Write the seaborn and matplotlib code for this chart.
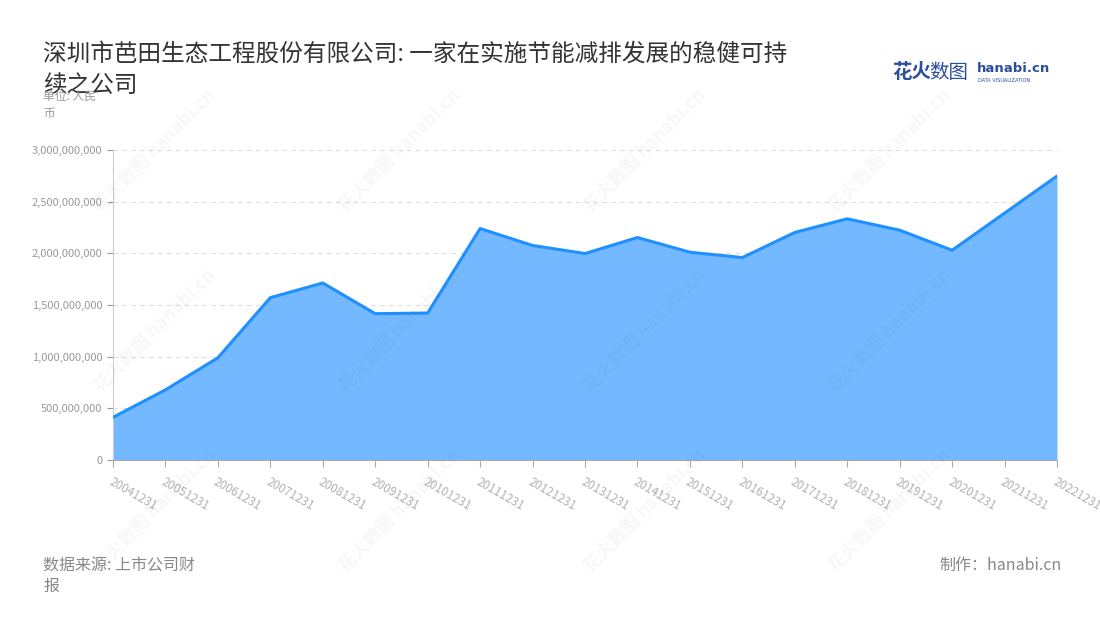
import numpy as np
import pandas as pd
import seaborn as sns
import matplotlib.pyplot as plt
from matplotlib.ticker import FuncFormatter

# 数据 (单位: 人民币)
years = ['20041231', '20051231', '20061231', '20071231', '20081231', '20091231',
         '20101231', '20111231', '20121231', '20131231', '20141231', '20151231',
         '20161231', '20171231', '20181231', '20191231', '20201231', '20211231',
         '20221231']
revenue = [413e6, 679e6, 989e6, 1571e6, 1713e6, 1416e6,
           1422e6, 2240e6, 2076e6, 1998e6, 2153e6, 2011e6,
           1959e6, 2202e6, 2334e6, 2224e6, 2030e6, 2389e6,
           2748e6]
y_ticks = [0, 500e6, 1000e6, 1500e6, 2000e6, 2500e6, 3000e6]

title = '深圳市芭田生态工程股份有限公司: 一家在实施节能减排发展的稳健可持\n续之公司'
unit_text = '单位: 人民\n币'
source_text = '数据来源: 上市公司财\n报'
credit_text = '制作：hanabi.cn'

df = pd.DataFrame({'idx': np.arange(len(years)), 'year': years, 'revenue': revenue})

sns.set_style('white')
plt.rcParams['font.family'] = ['Noto Sans CJK SC', 'DejaVu Sans']

fig = plt.figure(figsize=(11, 6.2), dpi=100)
ax = fig.add_axes([113 / 1100, 160 / 620, (1057 - 113) / 1100, 310 / 620])

# 面积图
ax.fill_between(df['idx'], df['revenue'], 0, color='#74b9ff', linewidth=0, zorder=2)
sns.lineplot(data=df, x='idx', y='revenue', ax=ax, color='#1e90ff', linewidth=2.2, zorder=3)

ax.set_xlim(0, len(years) - 1)
ax.set_ylim(0, 3000e6)
ax.set_yticks(y_ticks)
ax.yaxis.set_major_formatter(FuncFormatter(lambda v, p: f'{v:,.0f}'))
ax.set_xticks(df['idx'])
ax.set_xticklabels(years, rotation=-30, ha='left', va='top', rotation_mode='anchor')
ax.set_xlabel('')
ax.set_ylabel('')

ax.grid(axis='y', color='#dddddd', linestyle=(0, (4, 4)), linewidth=0.8, zorder=0)
ax.grid(axis='x', visible=False)
for s in ['top', 'right']:
    ax.spines[s].set_visible(False)
ax.spines['left'].set_color('#cccccc')
ax.spines['bottom'].set_color('#aaaaaa')
ax.tick_params(axis='y', colors='#999999', labelsize=8, length=4, direction='out', left=True)
ax.tick_params(axis='x', colors='#aaaaaa', labelcolor='#b0b0b8', labelsize=8.5, length=5,
               direction='out', bottom=True, pad=6)

# 水印
for wx in [155, 400, 645, 890]:
    for wy in [150, 330, 510]:
        fig.text(wx / 1100, 1 - wy / 620, '花火数图 hanabi.cn', rotation=45, fontsize=13,
                 color='#000000', alpha=0.035, ha='center', va='center', fontweight='bold')

# 标题与注释
fig.text(43 / 1100, 1 - 43 / 620, title, fontsize=17, color='#333333', ha='left', va='top',
         linespacing=1.45)
fig.text(43 / 1100, 1 - 90 / 620, unit_text, fontsize=8.5, color='#999999', ha='left', va='top',
         linespacing=1.4)
fig.text(43 / 1100, 1 - 557 / 620, source_text, fontsize=11.5, color='#888888', ha='left', va='top',
         linespacing=1.3)
fig.text(1062 / 1100, 1 - 557 / 620, credit_text, fontsize=11.5, color='#888888', ha='right', va='top')

# logo
fig.text(892 / 1100, 1 - 73 / 620, '花火', fontsize=14, color='#2a4ea0', fontweight='bold',
         ha='left', va='center')
fig.text(929 / 1100, 1 - 73 / 620, '数图', fontsize=14, color='#2a4ea0',
         ha='left', va='center')
fig.text(977 / 1100, 1 - 69 / 620, 'hanabi.cn', fontsize=9.5, color='#2a4ea0', fontweight='bold',
         ha='left', va='center', family=['DejaVu Sans'])
fig.text(978 / 1100, 1 - 80 / 620, 'DATA VISUALIZATION', fontsize=3.6, color='#2a4ea0',
         ha='left', va='center', family=['DejaVu Sans'])

fig.savefig('out.png', dpi=100, facecolor='white')
